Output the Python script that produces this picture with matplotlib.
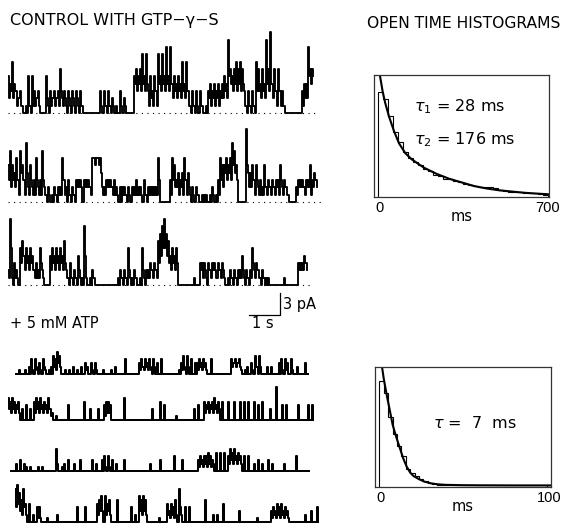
import numpy as np
import matplotlib
matplotlib.use("Agg")
import matplotlib.pyplot as plt

plt.rcParams["font.family"] = ["DejaVu Sans"]
plt.rcParams["mathtext.fontset"] = "dejavusans"

W, H = 566, 525          # figure size in pixels
PX_PER_S = 31.0          # 1 s scale bar
PX_PER_PA = 22.0 / 3.0   # 3 pA scale bar
DT = 2.0 / PX_PER_S      # seconds per open/dip pair

# Single-channel records. Each character is a current level
# (base 36) held for DT/2: OPEN = level reached, DIP = level of the brief
# flicker that follows it. Segments only keep the two lists aligned.
TRACE1_OPEN = ["5474", "323", "101", "515", "323", "000", "51", "32323", "62", "31313131",
               "31", "00000000", "303131", "20", "103020", "000", "5656858", "35353",
               "8585959", "45454747", "3131303", "101", "3434343", "454", "a", "6567676",
               "3131317", "6464a6b", "46363", "31000", "00000", "344", "966"]
TRACE1_DIP = ["2323", "121", "000", "101", "121", "000", "20", "12121", "31", "20202020",
              "10", "00000000", "101010", "10", "001010", "000", "4343434", "12131",
              "4343434", "23232323", "1010101", "000", "2121212", "232", "5", "4343434",
              "1010103", "3232434", "23131", "10000", "00000", "122", "545"]

TRACE2_OPEN = ["575", "46375", "38252", "36237", "21201212", "26323121", "3330333", "26666",
               "622", "333", "23202", "2212022", "3220312", "22226", "00000", "365",
               "3434634", "1202101", "1101201", "365", "5656875", "000", "0a4", "4535",
               "2325232", "3233523", "21000", "23332", "335343"]
TRACE2_DIP = ["323", "23143", "14131", "13113", "10100101", "13101010", "2220222", "16565",
              "411", "222", "11100", "1101011", "1110101", "11113", "00000", "132",
              "2121312", "0101000", "0000100", "132", "4343543", "000", "052", "2313",
              "1112121", "2121312", "10000", "12221", "221232"]

TRACE3_OPEN = ["291", "320", "5645454", "23252", "000", "45454546", "21312", "141", "18101210",
               "0000000000", "12121", "51", "12101", "512", "23232", "678", "976", "4545",
               "000", "00000100", "333132331323", "101", "21212", "24121", "25232", "121",
               "110", "0000001000000", "33343"]
TRACE3_DIP = ["150", "110", "3423232", "11131", "000", "23232323", "10101", "020", "04000100",
              "0000000000", "01010", "20", "01000", "201", "12121", "345", "543", "2323",
              "000", "00000000", "212021221212", "000", "10101", "12010", "13121", "010",
              "000", "0000000000000", "22232"]

TRACE4_OPEN = ["0010010", "24041304", "101", "254650", "010102010", "20320303",
               "0001000102000", "040", "00000", "34243414", "03040", "0000000", "13515",
               "0403", "34343", "0040", "00000000", "43434", "101", "2030525", "00020200",
               "03404304", "00200030"]
TRACE4_DIP = ["0000000", "01020102", "000", "021320", "000000000", "00100101",
              "0000000000000", "000", "00000", "12121202", "00000", "0000000", "01202",
              "0000", "12121", "0000", "00000000", "23232", "000", "0010202", "00000000",
              "00101001", "00000000"]

TRACE5_OPEN = ["656545", "0304030", "56564546", "32010", "000040000000", "50030003",
               "0045540", "0000060", "000000000000300", "05040", "0000100000", "00030400",
               "54545645", "0500500500", "5050500", "5040500", "0300", "90", "040400",
               "00040000404"]
TRACE5_DIP = ["323232", "0000000", "23232323", "10000", "000000000000", "00000000",
              "0012200", "0000000", "000000000000000", "00000", "0000000000", "00000000",
              "23232323", "0000000000", "0000000", "0000000", "0000", "00", "000000",
              "00000000000"]

TRACE6_OPEN = ["000", "20302", "101", "000", "101", "00000", "06001", "2030020030", "00003020",
               "03404", "03020", "00300", "000000000", "020", "000300", "000", "040",
               "0030000000", "34344543", "0505050", "4656454", "04040", "0203020", "03020000",
               "02", "00000", "40", "00000"]
TRACE6_DIP = ["000", "00000", "000", "000", "000", "00000", "02000", "0000000000", "00000000",
              "00101", "00000", "00000", "000000000", "000", "000000", "000", "000",
              "0000000000", "12121212", "0000000", "2323232", "00000", "0000000", "00000000",
              "00", "00000", "00", "00000"]

TRACE7_OPEN = ["9a8695", "05020440", "00100002000000000", "400", "0400", "000", "5670756",
               "000600000", "040207676", "0000001000", "535460", "920", "4040", "000000",
               "600", "020200", "5000000", "0300", "000000100000", "0343545343", "0000000",
               "02003004"]
TRACE7_DIP = ["453242", "00000110", "00000000000000000", "000", "0000", "000", "2330232",
              "000000000", "000003232", "0000000000", "212120", "400", "0000", "000000",
              "000", "000000", "0000000", "0000", "000000000000", "0121212121", "0000000",
              "00000000"]

CONTROL_PA_PER_LEVEL = 1.0   # control traces
ATP_PA_PER_LEVEL = 0.5       # + 5 mM ATP traces

# open time histogram, control (bins of 20 ms from 15 ms), normalised counts
HIST1_START_MS, HIST1_BIN_MS = 15, 20
HIST1_COUNTS = [0.86, 0.80, 0.66, 0.53, 0.45, 0.37, 0.32, 0.29, 0.26, 0.23, 0.21, 0.18,
                0.17, 0.15, 0.15, 0.13, 0.12, 0.11, 0.10, 0.09, 0.085, 0.08, 0.085, 0.07,
                0.06, 0.05, 0.045, 0.04, 0.04, 0.035, 0.03, 0.03, 0.025, 0.02]
FIT1_T = [15, 25, 35, 45, 60, 80, 100, 125, 150, 200, 250, 300, 350, 400, 450, 500,
          550, 600, 650, 700]
FIT1_Y = [1.12, 0.98, 0.86, 0.77, 0.66, 0.54, 0.44, 0.36, 0.31, 0.24, 0.19, 0.15, 0.12,
          0.09, 0.07, 0.055, 0.045, 0.035, 0.028, 0.022]

# open time histogram, + ATP (bins of 2.5 ms from 2.5 ms)
HIST2_START_MS, HIST2_BIN_MS = 2.5, 2.5
HIST2_COUNTS = [0.88, 0.78, 0.58, 0.44, 0.34, 0.26, 0.15, 0.12, 0.09, 0.07, 0.05, 0.035,
                0.025, 0.02, 0.018, 0.015, 0.015, 0.015, 0.015, 0.015, 0.015, 0.015, 0.015,
                0.015, 0.015, 0.015, 0.015, 0.015, 0.015, 0.015, 0.015, 0.015, 0.015, 0.015,
                0.015, 0.015, 0.015, 0.015]
FIT2_T = [3, 4, 5, 6, 7, 8, 10, 12, 14, 16, 18, 20, 22, 25, 28, 32, 36, 40, 50, 60, 80, 100]
FIT2_Y = [1.15, 1.0, 0.9, 0.82, 0.74, 0.67, 0.52, 0.42, 0.33, 0.24, 0.17, 0.12, 0.09,
          0.065, 0.045, 0.03, 0.022, 0.018, 0.015, 0.014, 0.013, 0.013]


def record(open_segs, dip_segs, pa_per_level):
    hi = [int(c, 36) for c in "".join(open_segs)]
    lo = [int(c, 36) for c in "".join(dip_segs)]
    assert len(hi) == len(lo)
    y = np.column_stack([hi, lo]).ravel() * pa_per_level
    t = np.arange(len(y)) * DT / 2
    return t, y


fig = plt.figure(figsize=(W / 100, H / 100), dpi=100)
fig.patch.set_facecolor("white")

# overlay in pixel coordinates for labels and scale bar
ov = fig.add_axes([0, 0, 1, 1])
ov.set_xlim(0, W)
ov.set_ylim(H, 0)
ov.axis("off")


def trace_axes(x0, base, dur, above=95, below=4):
    width = dur * PX_PER_S
    ax = fig.add_axes([x0 / W, (H - base - below) / H, width / W, (above + below) / H])
    ax.set_xlim(0, dur)
    ax.set_ylim(-below / PX_PER_PA, above / PX_PER_PA)
    ax.axis("off")
    return ax


control = [(TRACE1_OPEN, TRACE1_DIP, 8, 113),
           (TRACE2_OPEN, TRACE2_DIP, 8, 202),
           (TRACE3_OPEN, TRACE3_DIP, 8, 285)]
for op, dp, x0, base in control:
    t, y = record(op, dp, CONTROL_PA_PER_LEVEL)
    dur = t[-1] + DT / 2 + 0.1
    ax = trace_axes(x0, base, dur)
    ax.step(t, y, where="post", color="black", lw=1.35)
    ax.plot([0, dur], [0, 0], color="black", lw=0.8, linestyle=(0, (1, 4)))

atp = [(TRACE4_OPEN, TRACE4_DIP, 15, 374),
       (TRACE5_OPEN, TRACE5_DIP, 8, 420),
       (TRACE6_OPEN, TRACE6_DIP, 10, 471),
       (TRACE7_OPEN, TRACE7_DIP, 15, 522)]
for op, dp, x0, base in atp:
    t, y = record(op, dp, ATP_PA_PER_LEVEL)
    ax = trace_axes(x0, base, t[-1] + DT / 2, above=60)
    ax.step(t, y, where="post", color="black", lw=1.45)

# scale bar: 3 pA / 1 s
bx, by = 280, 315
ov.plot([bx - PX_PER_S, bx, bx], [by, by, by - 3 * PX_PER_PA], color="black", lw=0.9)
ov.text(bx + 3, by - 10, "3 pA", fontsize=10.5, va="center", ha="left")
ov.text(bx - PX_PER_S / 2 - 2, by + 9, "1 s", fontsize=10.5, va="center", ha="center")

ov.text(10, 21, "CONTROL WITH GTP\u2212\u03b3\u2212S", fontsize=11.5, va="center", ha="left")
ov.text(367, 24, "OPEN TIME HISTOGRAMS", fontsize=11.2, va="center", ha="left")
ov.text(10, 323, "+ 5 mM ATP", fontsize=10.5, va="center", ha="left")


def hist_axes(box, counts, start, width, fit_t, fit_y, xmax):
    x0, y0, x1, y1 = box
    ax = fig.add_axes([x0 / W, (H - y1) / H, (x1 - x0) / W, (y1 - y0) / H])
    edges = start + width * np.arange(len(counts) + 1)
    ax.stairs(counts, edges, color="black", lw=0.8)
    ax.plot(fit_t, fit_y, color="black", lw=1.5)
    ax.set_xlim(0, xmax)
    ax.set_ylim(0, 1.0)
    ax.set_xticks([])
    ax.set_yticks([])
    for sp in ax.spines.values():
        sp.set_linewidth(0.9)
        sp.set_color("#333333")
    num = dict(transform=ax.transAxes, fontsize=10.5, ha="center", va="center",
               family="Liberation Sans")
    ax.text(0.03, -0.09, "0", **num)
    ax.text(0.99, -0.09, f"{xmax}", **num)
    ax.text(0.5, -0.16, "ms", transform=ax.transAxes, fontsize=10.5, ha="center",
            va="center")
    return ax


h1 = hist_axes((374, 75, 549, 197), HIST1_COUNTS, HIST1_START_MS, HIST1_BIN_MS,
               FIT1_T, FIT1_Y, 700)
h1.text(0.23, 0.74, r"$\tau_1$ = 28 ms", transform=h1.transAxes, fontsize=11.5, va="center")
h1.text(0.23, 0.47, r"$\tau_2$ = 176 ms", transform=h1.transAxes, fontsize=11.5, va="center")

h2 = hist_axes((375, 367, 551, 487), HIST2_COUNTS, HIST2_START_MS, HIST2_BIN_MS,
               FIT2_T, FIT2_Y, 100)
h2.text(0.33, 0.53, r"$\tau$ =  7  ms", transform=h2.transAxes, fontsize=11.5, va="center")

fig.savefig("out.png", dpi=100, facecolor="white")
